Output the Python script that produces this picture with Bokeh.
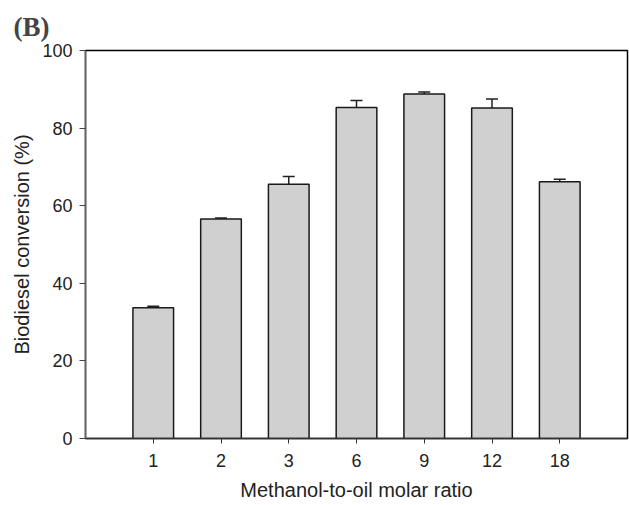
from bokeh.plotting import figure
from bokeh.models import Range1d, FixedTicker, ColumnDataSource, Whisker, TeeHead
from bokeh.embed import file_html
from bokeh.resources import INLINE

categories = ["1", "2", "3", "6", "9", "12", "18"]
conversion = [33.7, 56.6, 65.5, 85.3, 88.8, 85.2, 66.2]
errors = [0.4, 0.2, 2.0, 1.8, 0.5, 2.3, 0.6]
y_ticks = [0, 20, 40, 60, 80, 100]

pos = [i + 1 for i in range(len(categories))]
upper = [v + e for v, e in zip(conversion, errors)]
src = ColumnDataSource(dict(x=pos, top=conversion, upper=upper, lower=conversion))

FONT = "Liberation Sans"

p = figure(width=629, height=505, output_backend="svg", toolbar_location=None,
           x_range=Range1d(0, len(categories) + 1), y_range=Range1d(0, 100),
           min_border_left=85, min_border_right=2, min_border_bottom=67,
           min_border_top=49)

p.title.text = "(B)"
p.title.text_font = "Liberation Serif"
p.title.text_font_style = "bold"
p.title.text_font_size = "27px"
p.title.align = "left"
p.title.offset = -72
p.title.standoff = 18

p.vbar(x="x", top="top", width=0.6, source=src, fill_color="#d0d0d0",
       line_color="#1a1a1a", line_width=1.5)

w = Whisker(source=src, base="x", upper="upper", lower="lower",
            upper_head=TeeHead(size=12, line_color="#222222", line_width=1.5),
            lower_head=None, line_color="#222222", line_width=1.5)
p.add_layout(w)

p.grid.visible = False
p.outline_line_color = "black"
p.outline_line_width = 1.5

p.xaxis.ticker = FixedTicker(ticks=pos)
p.xaxis.major_label_overrides = {pp: c for pp, c in zip(pos, categories)}
p.xaxis.minor_tick_line_color = None
p.xaxis.major_tick_out = 5
p.xaxis.major_tick_in = 0
p.xaxis.axis_line_color = "#333333"
p.xaxis.axis_line_width = 1.5
p.xaxis.major_tick_line_color = "#333333"
p.xaxis.major_label_standoff = 10
p.xaxis.axis_label = "Methanol-to-oil molar ratio"
p.xaxis.axis_label_standoff = 9

p.yaxis.ticker = FixedTicker(ticks=y_ticks)
p.yaxis.minor_tick_line_color = None
p.yaxis.major_tick_out = 6
p.yaxis.major_tick_in = 0
p.yaxis.axis_line_color = "#666666"
p.yaxis.axis_line_width = 1.5
p.yaxis.major_tick_line_color = "#444444"
p.yaxis.major_label_standoff = 7
p.yaxis.axis_label = "Biodiesel conversion (%)"
p.yaxis.axis_label_standoff = 6

for ax in (p.xaxis, p.yaxis):
    ax.major_label_text_font = FONT
    ax.major_label_text_font_size = "18px"
    ax.major_label_text_color = "#222222"
    ax.axis_label_text_font = FONT
    ax.axis_label_text_font_size = "20px"
    ax.axis_label_text_font_style = "normal"
    ax.axis_label_text_color = "#222222"

open("out.html", "w").write(file_html(p, INLINE))
